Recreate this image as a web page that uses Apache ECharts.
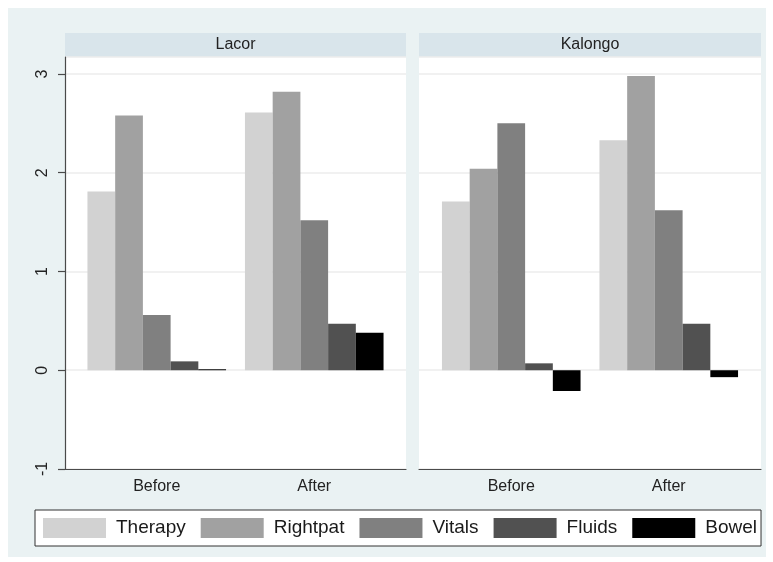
<!DOCTYPE html>
<html>
<head>
<meta charset="utf-8">
<script src="https://cdn.jsdelivr.net/npm/echarts@6/dist/echarts.min.js"></script>
<style>
  html, body { margin: 0; padding: 0; background: #ffffff; }
  #chart { width: 773px; height: 562px; }
</style>
</head>
<body>
<div id="chart"></div>
<script>
// Mean scores by skill area, before and after, for each hospital
const sites = ['Lacor', 'Kalongo'];
const periods = ['Before', 'After'];
const skills = ['Therapy', 'Rightpat', 'Vitals', 'Fluids', 'Bowel'];
const skillColors = ['#d2d2d2', '#a1a1a1', '#808080', '#515151', '#000000'];

// values per skill: [Before, After]
const lacorTherapy = [1.81, 2.61];
const lacorRightpat = [2.58, 2.82];
const lacorVitals = [0.56, 1.52];
const lacorFluids = [0.09, 0.47];
const lacorBowel = [0.01, 0.38];

const kalongoTherapy = [1.71, 2.33];
const kalongoRightpat = [2.04, 2.98];
const kalongoVitals = [2.50, 1.62];
const kalongoFluids = [0.07, 0.47];
const kalongoBowel = [-0.21, -0.07];

const yTicks = [-1, 0, 1, 2, 3];

const lacorValues = [lacorTherapy, lacorRightpat, lacorVitals, lacorFluids, lacorBowel];
const kalongoValues = [kalongoTherapy, kalongoRightpat, kalongoVitals, kalongoFluids, kalongoBowel];

const FONT = '"Liberation Sans", Arial, Helvetica, sans-serif';
const Y_MIN = yTicks[0];
const Y_MAX = 3.172;

// panel frames (white plot areas) and inner bar areas
const plotTop = 57, plotHeight = 412;
const panels = [
  { left: 65, width: 341 },
  { left: 419, width: 342 }
];
const barWidthArea = 315;

const grids = [];
const xAxes = [];
const yAxes = [];
panels.forEach((p, i) => {
  // frame grid: white background, axis lines, gridlines
  grids.push({ left: p.left, top: plotTop, width: p.width, height: plotHeight,
    show: true, backgroundColor: '#ffffff', borderWidth: 0 });
  xAxes.push({ gridIndex: 2 * i, type: 'value', min: 0, max: 1,
    axisLine: { show: true, onZero: false, lineStyle: { color: '#4a4a4a', width: 1.2 } },
    axisTick: { show: false }, axisLabel: { show: false }, splitLine: { show: false } });
  yAxes.push({ gridIndex: 2 * i, type: 'value', min: Y_MIN, max: Y_MAX, interval: 1,
    axisLine: { show: i === 0, onZero: false, lineStyle: { color: '#4a4a4a', width: 1.2 } },
    axisTick: { show: i === 0, length: 7, lineStyle: { color: '#4a4a4a', width: 1.2 } },
    axisLabel: { show: i === 0, rotate: 90, margin: 14, fontFamily: FONT, fontSize: 16,
      color: '#222222', showMaxLabel: false },
    splitLine: { show: true, lineStyle: { color: '#ececec', width: 1.5 } } });

  // bar grid: category bands centred inside the frame
  const inner = p.left + (p.width - barWidthArea) / 2;
  grids.push({ left: inner, top: plotTop, width: barWidthArea, height: plotHeight });
  xAxes.push({ gridIndex: 2 * i + 1, type: 'category', data: periods,
    axisLine: { show: false }, axisTick: { show: false },
    axisLabel: { margin: 10, fontFamily: FONT, fontSize: 16, color: '#222222' } });
  yAxes.push({ gridIndex: 2 * i + 1, type: 'value', min: Y_MIN, max: Y_MAX, interval: 1,
    axisLine: { show: false }, axisTick: { show: false }, axisLabel: { show: false },
    splitLine: { show: false } });
});

const series = [];
[lacorValues, kalongoValues].forEach((vals, i) => {
  skills.forEach((name, k) => {
    series.push({
      name: name, type: 'bar', xAxisIndex: 2 * i + 1, yAxisIndex: 2 * i + 1,
      data: vals[k], barGap: '0%', barCategoryGap: '12%',
      itemStyle: { color: skillColors[k] },
      emphasis: { disabled: true }, animation: false
    });
  });
});

// outer background and strip headers above each panel
const graphics = [
  { type: 'rect', shape: { x: 8, y: 8, width: 758, height: 549 }, style: { fill: '#eaf2f3' }, z: -10 }
];
panels.forEach((p, i) => {
  graphics.push({ type: 'rect', shape: { x: p.left, y: 33, width: p.width, height: 24 },
    style: { fill: '#d9e5eb' }, z: -5 });
  graphics.push({ type: 'text', x: p.left + p.width / 2, y: 45,
    style: { text: sites[i], fontFamily: FONT, fontSize: 16, fill: '#222222',
      align: 'center', verticalAlign: 'middle' }, z: 5 });
});

const chart = echarts.init(document.getElementById('chart'), null, { renderer: 'canvas' });
chart.setOption({
  backgroundColor: '#ffffff',
  animation: false,
  graphic: graphics,
  grid: grids,
  xAxis: xAxes,
  yAxis: yAxes,
  legend: {
    data: skills, left: 35, top: 510, orient: 'horizontal',
    icon: 'rect', itemWidth: 63, itemHeight: 20, itemGap: 15,
    padding: [8, 4, 8, 8],
    borderColor: '#333333', borderWidth: 1, backgroundColor: '#ffffff',
    textStyle: { fontFamily: FONT, fontSize: 19, color: '#1a1a1a', padding: [0, 0, 0, 5] },
    selectedMode: false
  },
  series: series
});
</script>
</body>
</html>
